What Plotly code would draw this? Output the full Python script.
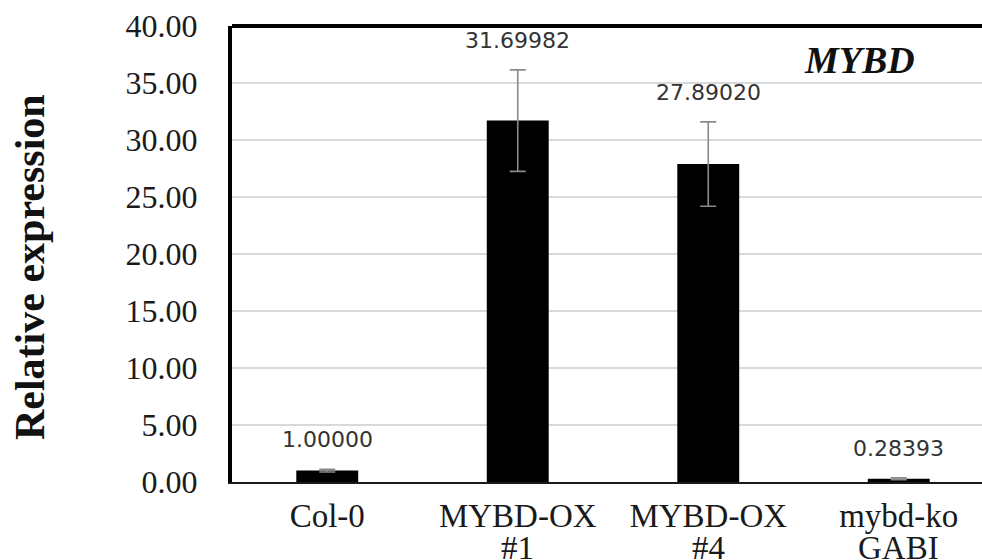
import plotly.graph_objects as go

# Relative expression of MYBD in each line
categories = ["Col-0", "MYBD-OX #1", "MYBD-OX #4", "mybd-ko GABI"]
values = [1.00000, 31.69982, 27.89020, 0.28393]
errors = [0.12, 4.45, 3.70, 0.08]
y_ticks = [0, 5, 10, 15, 20, 25, 30, 35, 40]

# category names are printed on two lines: line name, then line number
name_parts = [c.split(" ", 1) for c in categories]
first_lines = [p[0] for p in name_parts]
second_lines = [p[1] if len(p) > 1 else "" for p in name_parts]

label_font = dict(family="Liberation Serif", size=33, color="#1a1a1a")

fig = go.Figure()

fig.add_trace(go.Bar(
    x=categories,
    y=values,
    width=0.325,
    marker=dict(color="#000000", line=dict(width=0)),
    error_y=dict(type="data", array=errors, visible=True,
                 color="#8a8a8a", thickness=1.6, width=8),
    showlegend=False,
    hoverinfo="x+y",
))

# value labels above each error bar
for c, v, e in zip(categories, values, errors):
    fig.add_annotation(
        x=c, y=v + e, xref="x", yref="y",
        text=f"{v:.5f}", showarrow=False,
        yanchor="bottom", yshift=15,
        font=dict(family="DejaVu Sans", size=22, color="#333333"),
    )

# second line of each category name, set close under the first
for c, s in zip(categories, second_lines):
    if s:
        fig.add_annotation(
            x=c, y=0, xref="x", yref="y",
            text=s, showarrow=False,
            yanchor="middle", yshift=-66,
            font=label_font,
        )

# gene name inside the plot
fig.add_annotation(
    x=0.836, y=0.925, xref="paper", yref="paper",
    text="<b><i>MYBD</i></b>", showarrow=False,
    xanchor="center", yanchor="middle",
    font=dict(family="Liberation Serif", size=38, color="#111111"),
)

# y-axis title
fig.add_annotation(
    x=-0.2693, y=0.4715, xref="paper", yref="paper",
    text="<b>Relative expression</b>", showarrow=False, textangle=-90,
    xanchor="center", yanchor="middle",
    font=dict(family="Liberation Serif", size=42, color="#111111"),
)

# heavy top frame line
fig.add_shape(type="line", xref="paper", yref="paper",
              x0=0, x1=1, y0=1, y1=1,
              line=dict(color="#000000", width=4))

fig.update_layout(
    width=982, height=560,
    margin=dict(l=232, r=0, t=26, b=78, autoexpand=False),
    plot_bgcolor="#ffffff",
    paper_bgcolor="#ffffff",
    bargap=0.675,
    xaxis=dict(
        range=[-0.5, 3.437],
        tickmode="array",
        tickvals=categories,
        ticktext=first_lines,
        showgrid=False,
        showline=True, linecolor="#1a1a1a", linewidth=2,
        ticks="", ticklabelstandoff=3,
        tickfont=label_font,
        fixedrange=True,
    ),
    yaxis=dict(
        range=[0, 40],
        tickvals=y_ticks,
        tickformat=".2f",
        showgrid=True, gridcolor="#d9d9d9", gridwidth=1.5,
        zeroline=False,
        showline=True, linecolor="#000000", linewidth=4,
        ticks="", ticklabelstandoff=24,
        tickfont=dict(family="Liberation Serif", size=32, color="#1a1a1a"),
        fixedrange=True,
    ),
)

fig.write_html("out.html")
